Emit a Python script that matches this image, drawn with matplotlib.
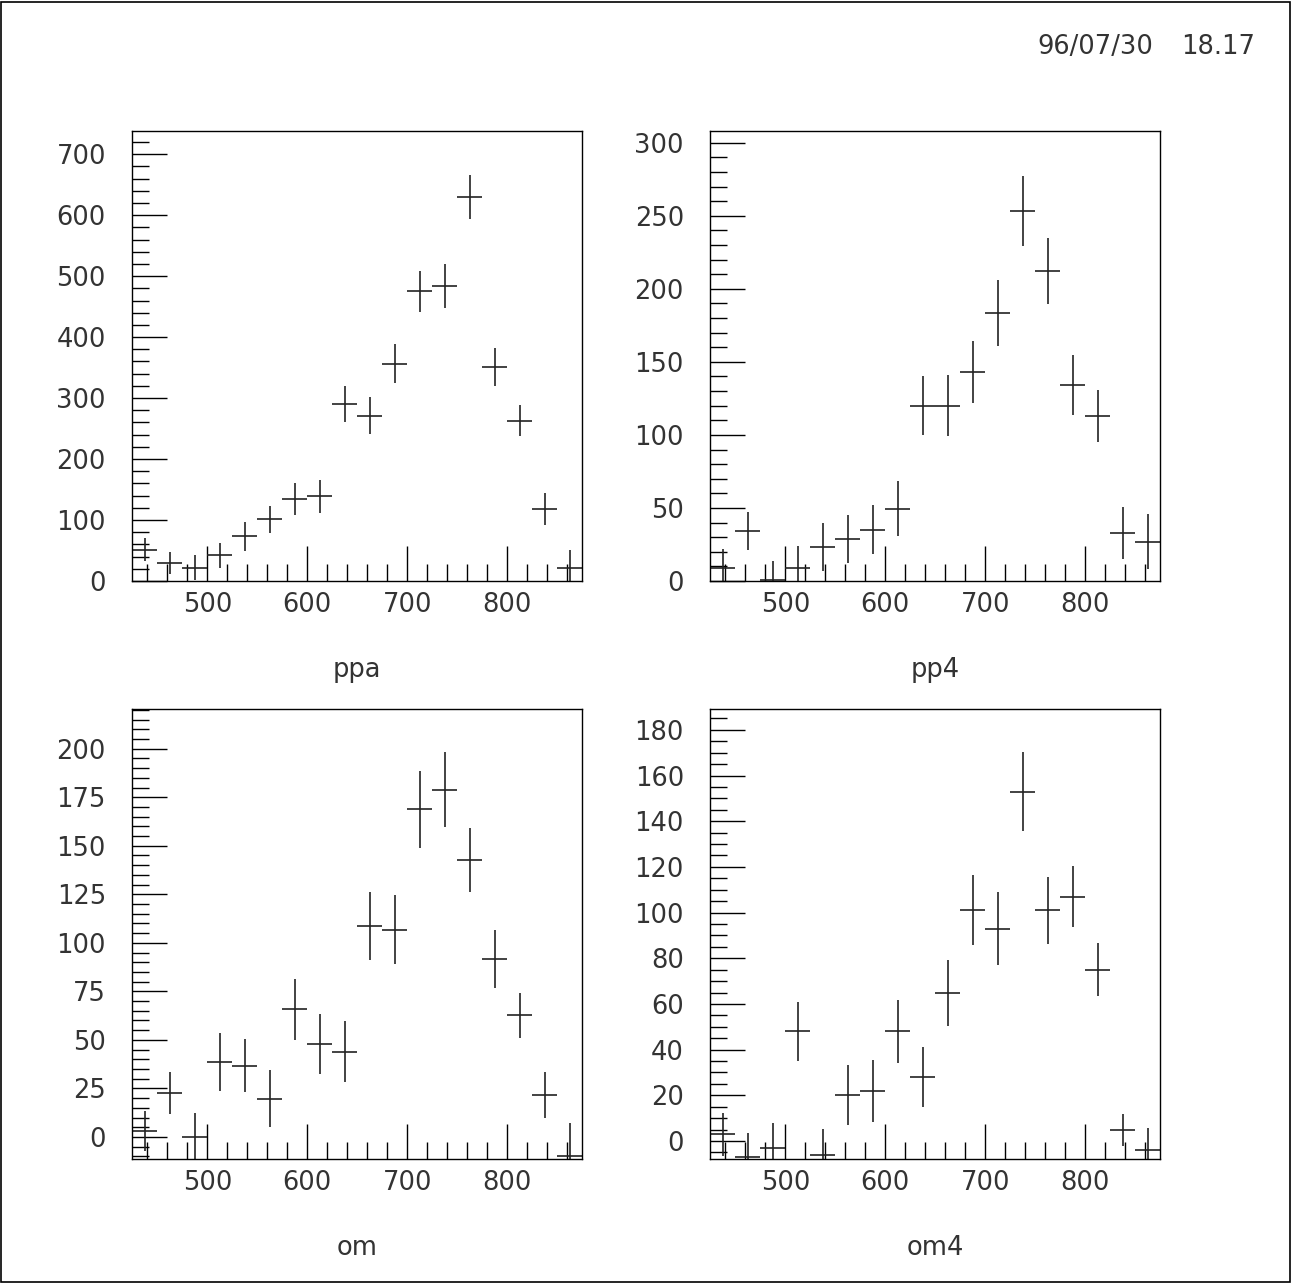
import matplotlib
matplotlib.use("Agg")
import matplotlib.pyplot as plt
import numpy as np
from matplotlib.ticker import MultipleLocator
from matplotlib.patches import Rectangle

# bins: 18 bins of width 25 from 425 to 875
bin_edges = np.arange(425, 876, 25)
centers = (bin_edges[:-1] + bin_edges[1:]) / 2

ppa_val = [51, 30, 22, 42, 73, 101, 134, 139, 290, 271, 356, 475, 484, 630, 351, 263, 118, 21]
ppa_err = [19, 18, 20, 21, 23, 22, 26, 27, 30, 30, 32, 34, 36, 36, 31, 26, 26, 30]

pp4_val = [9, 34, 0.5, 9, 23.5, 29, 35, 49.5, 120, 120, 143, 183.5, 253, 212, 134, 113, 33, 27]
pp4_err = [13, 13, 13, 15, 16.4, 16.5, 16.8, 18.7, 20, 20.7, 21.4, 22.6, 24, 22.6, 20.5, 17.9, 17.9, 18.8]

om_val = [3, 22.8, 0, 38.8, 36.7, 19.6, 65.8, 47.7, 44, 108.9, 106.8, 168.8, 178.9, 142.7, 91.7, 62.8, 21.6, -10]
om_err = [10.3, 10.9, 12.5, 14.9, 13.6, 14.7, 15.7, 15.4, 15.7, 17.5, 17.8, 19.7, 19.4, 16.7, 14.8, 11.6, 11.8, 17]

om4_val = [2.9, -7.2, -2.9, 48, -6, 20, 22, 48, 27.9, 64.8, 101, 93, 153, 101, 107, 75, 4.8, -4.1]
om4_err = [9.3, 10.6, 10.6, 12.8, 11.3, 13.1, 13.6, 13.9, 13.2, 14.5, 15.3, 16, 17.1, 14.7, 13.5, 11.6, 6.9, 10]

titles = ["ppa", "pp4", "om", "om4"]
values = [ppa_val, pp4_val, om_val, om4_val]
errors = [ppa_err, pp4_err, om_err, om4_err]
ylims = [(0, 738), (0, 308), (-11.5, 220.3), (-8, 189)]
ymajor = [100, 50, 25, 20]
yminor = [20, 10, 5, 5]

W, H = 1292, 1283
fig = plt.figure(figsize=(W / 100, H / 100), dpi=100)
txt_color = '#333333'
fs = 18.5

# axes boxes in pixels: left, top
boxes = [(132.3, 131), (710.3, 131), (132.3, 709.3), (710.3, 709.3)]
size = 450

for i in range(4):
    left, top = boxes[i]
    ax = fig.add_axes([left / W, 1 - (top + size) / H, size / W, size / H])
    ax.errorbar(centers, values[i], yerr=errors[i], xerr=12.5, fmt='none',
                ecolor='#222222', elinewidth=1.2, capsize=0)
    ax.set_xlim(425, 875)
    ax.set_ylim(*ylims[i])
    ax.xaxis.set_major_locator(MultipleLocator(100))
    ax.xaxis.set_minor_locator(MultipleLocator(20))
    ax.yaxis.set_major_locator(MultipleLocator(ymajor[i]))
    ax.yaxis.set_minor_locator(MultipleLocator(yminor[i]))
    ax.tick_params(which='both', direction='in', top=False, right=False,
                   color='black', width=1, labelsize=fs, labelcolor=txt_color)
    ax.tick_params(which='major', length=25)
    ax.tick_params(which='minor', length=12.5)
    ax.tick_params(axis='x', which='major', pad=8)
    ax.tick_params(axis='y', which='major', pad=19)
    for s in ax.spines.values():
        s.set_linewidth(1)
        s.set_color('black')
    cx = (left + size / 2) / W
    ly = 1 - (top + size + 89) / H
    fig.text(cx, ly, titles[i], ha='center', va='center', fontsize=fs, color=txt_color)

# date / time stamp
fig.text(1153 / W, 1 - 47 / H, "96/07/30", ha='right', va='center',
         fontsize=fs, color=txt_color)
fig.text(1255 / W, 1 - 47 / H, "18.17", ha='right', va='center',
         fontsize=fs, color=txt_color)

# outer frame
fig.patches.append(Rectangle((0.5 / W, 1.5 / H), (W - 3) / W, (H - 3) / H,
                             transform=fig.transFigure, fill=False,
                             edgecolor='black', linewidth=1.2))

fig.savefig("out.png", dpi=100)
